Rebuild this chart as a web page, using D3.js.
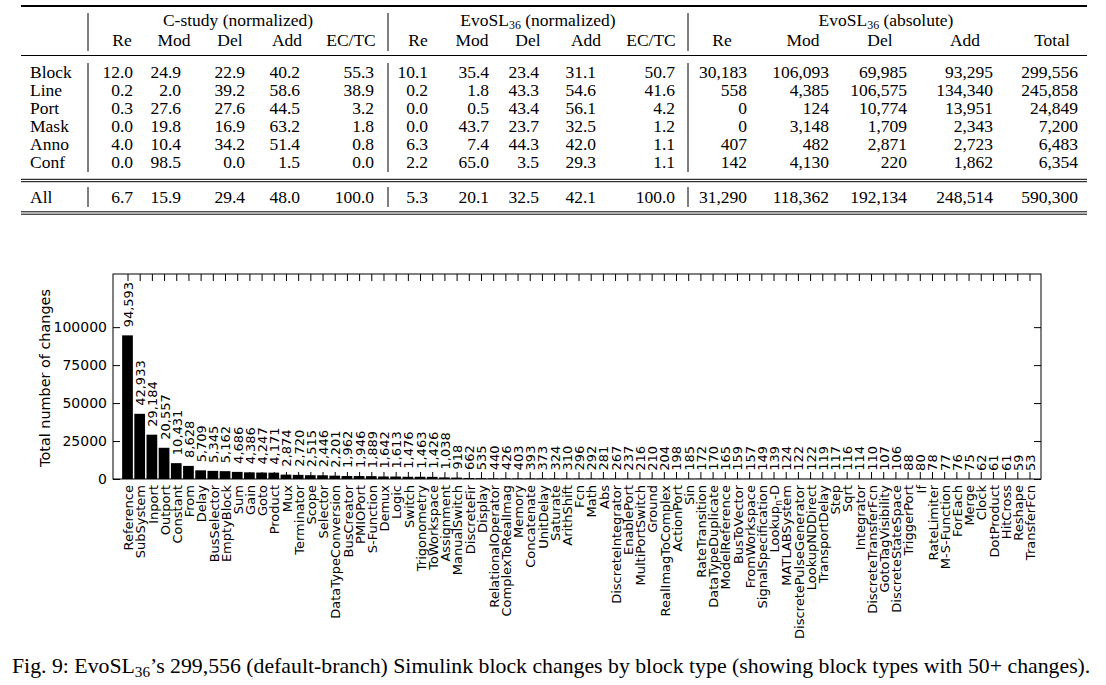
<!DOCTYPE html>
<html><head><meta charset="utf-8">
<script src="https://cdn.jsdelivr.net/npm/d3@7"></script>
<style>body{margin:0;background:#fff} svg{display:block}</style>
</head><body>
<svg id="c" width="1106" height="685"></svg>
<script>
// ---------------- DATA ----------------
const groupHeaders = ["C-study (normalized)", "EvoSL_{36} (normalized)", "EvoSL_{36} (absolute)"];
const columnHeaders = [
  ["Re","Mod","Del","Add","EC/TC"],
  ["Re","Mod","Del","Add","EC/TC"],
  ["Re","Mod","Del","Add","Total"]
];
const rowLabels = ["Block","Line","Port","Mask","Anno","Conf"];
const totalLabel = "All";
const cStudyValues = [
  [12.0,24.9,22.9,40.2,55.3],
  [0.2,2.0,39.2,58.6,38.9],
  [0.3,27.6,27.6,44.5,3.2],
  [0.0,19.8,16.9,63.2,1.8],
  [4.0,10.4,34.2,51.4,0.8],
  [0.0,98.5,0.0,1.5,0.0]
];
const cStudyAll = [6.7,15.9,29.4,48.0,100.0];
const evoNormValues = [
  [10.1,35.4,23.4,31.1,50.7],
  [0.2,1.8,43.3,54.6,41.6],
  [0.0,0.5,43.4,56.1,4.2],
  [0.0,43.7,23.7,32.5,1.2],
  [6.3,7.4,44.3,42.0,1.1],
  [2.2,65.0,3.5,29.3,1.1]
];
const evoNormAll = [5.3,20.1,32.5,42.1,100.0];
const evoAbsValues = [
  [30183,106093,69985,93295,299556],
  [558,4385,106575,134340,245858],
  [0,124,10774,13951,24849],
  [0,3148,1709,2343,7200],
  [407,482,2871,2723,6483],
  [142,4130,220,1862,6354]
];
const evoAbsAll = [31290,118362,192134,248514,590300];

const blockTypes = ["Reference","SubSystem","Inport","Outport","Constant","From","Delay","BusSelector","EmptyBlock","Sum",
  "Gain","Goto","Product","Mux","Terminator","Scope","Selector","DataTypeConversion","BusCreator","PMIOPort",
  "S-Function","Demux","Logic","Switch","Trigonometry","ToWorkspace","Assignment","ManualSwitch","DiscreteFir","Display",
  "RelationalOperator","ComplexToRealImag","Memory","Concatenate","UnitDelay","Saturate","ArithShift","Fcn","Math","Abs",
  "DiscreteIntegrator","EnablePort","MultiPortSwitch","Ground","RealImagToComplex","ActionPort","Sin","RateTransition","DataTypeDuplicate","ModelReference",
  "BusToVector","FromWorkspace","SignalSpecification","Lookup_n-D","MATLABSystem","DiscretePulseGenerator","LookupNDDirect","TransportDelay","Step","Sqrt",
  "Integrator","DiscreteTransferFcn","GotoTagVisibility","DiscreteStateSpace","TriggerPort","If","RateLimiter","M-S-Function","ForEach","Merge",
  "Clock","DotProduct","HitCross","Reshape","TransferFcn"];
const blockChanges = [94593,42933,29184,20557,10431,8628,5709,5345,5162,4686,
  4386,4247,4171,2874,2720,2515,2446,2201,1962,1946,
  1889,1642,1613,1476,1463,1426,1038,918,662,535,
  440,426,403,393,373,324,310,296,292,281,
  267,237,216,210,204,198,185,172,170,165,
  159,157,149,139,124,122,122,119,117,116,
  114,110,107,106,88,80,78,77,76,75,
  62,61,61,59,53];
const yTicks = [0,25000,50000,75000,100000];
const yMax = 135000;
const yTitle = "Total number of changes";
const caption = "Fig. 9: EvoSL_{36}\u2019s 299,556 (default-branch) Simulink block changes by block type (showing block types with 50+ changes).";

// ---------------- LAYOUT ----------------
const svg = d3.select("#c");
const serif = "'Liberation Serif','Times New Roman',Times,serif";
const sans = "'DejaVu Sans',sans-serif";

// rich text: "_{..}" or "_x" => subscript
function richText(textSel, str, subScale, shift) {
  const parts = [];
  const re = /_\{([^}]*)\}|_(.)/g;
  let last = 0, m;
  while ((m = re.exec(str)) !== null) {
    if (m.index > last) parts.push({t: str.slice(last, m.index), sub: false});
    parts.push({t: m[1] !== undefined ? m[1] : m[2], sub: true});
    last = re.lastIndex;
  }
  if (last < str.length) parts.push({t: str.slice(last), sub: false});
  textSel.text(null);
  let down = false;
  parts.forEach(p => {
    const ts = textSel.append("tspan").text(p.t);
    if (p.sub) { ts.attr("font-size", (subScale*100)+"%").attr("dy", shift); down = true; }
    else if (down) { ts.attr("dy", -shift); down = false; }
  });
}

// ---- Table ----
const T = {
  x0: 21, x1: 1087,
  vlines: [88, 388, 688],
  groupCenters: [238, 538, 886],
  headerCenters: [[122,174,230,287,351],[418,472,528,586,651],[722,803,880,965,1052]],
  numRights: [[133,181,245,300,374],[428,489,539,596,675],[747,829,907,993,1078]],
  labelX: 30,
  yTop: 6, yGroup: 25.5, yHead: 45.5, yMid: 55.5, yRow0: 77.5, rowStep: 18,
  yRule2: 180.5, yAll: 203, yBottom: 213, fs: 17.5
};
const tg = svg.append("g").attr("font-family", serif).attr("font-size", T.fs).attr("fill", "#000");
// rules
[[T.yTop,1.8],[T.yMid,1],[T.yRule2 - 1.2,1],[T.yRule2 + 1.2,1],[T.yBottom - 1.2,1],[T.yBottom + 1.2,1]].forEach(([yy,w]) => {
  tg.append("line").attr("x1", T.x0).attr("x2", T.x1).attr("y1", yy).attr("y2", yy)
    .attr("stroke", "#000").attr("stroke-width", w);
});
// vertical lines
const vSegs = [[13, 51], [63, 172], [187, 207]];
T.vlines.forEach(vx => vSegs.forEach(([a,b]) => {
  tg.append("line").attr("x1", vx).attr("x2", vx).attr("y1", a).attr("y2", b)
    .attr("stroke", "#000").attr("stroke-width", 1);
}));
// group headers
groupHeaders.forEach((g, i) => {
  const t = tg.append("text").attr("x", T.groupCenters[i]).attr("y", T.yGroup).attr("text-anchor", "middle");
  richText(t, g, 0.68, 3);
});
// column headers
columnHeaders.forEach((cols, gi) => cols.forEach((c, ci) => {
  tg.append("text").attr("x", T.headerCenters[gi][ci]).attr("y", T.yHead).attr("text-anchor", "middle").text(c);
}));
const fmt1 = d3.format(".1f");
const fmtAbs = d3.format(",");
const groups = [
  {vals: cStudyValues, all: cStudyAll, f: fmt1},
  {vals: evoNormValues, all: evoNormAll, f: fmt1},
  {vals: evoAbsValues, all: evoAbsAll, f: fmtAbs}
];
rowLabels.forEach((r, ri) => {
  const yy = T.yRow0 + ri * T.rowStep;
  tg.append("text").attr("x", T.labelX).attr("y", yy).text(r);
  groups.forEach((g, gi) => g.vals[ri].forEach((v, ci) => {
    tg.append("text").attr("x", T.numRights[gi][ci]).attr("y", yy).attr("text-anchor", "end").text(g.f(v));
  }));
});
tg.append("text").attr("x", T.labelX).attr("y", T.yAll).text(totalLabel);
groups.forEach((g, gi) => g.all.forEach((v, ci) => {
  tg.append("text").attr("x", T.numRights[gi][ci]).attr("y", T.yAll).attr("text-anchor", "end").text(g.f(v));
}));

// ---- Bar chart ----
const P = {left: 113, right: 1041, top: 274, bottom: 479};
const x = d3.scalePoint().domain(blockTypes).range([P.left + 14.5, P.right - 11.5]);
const bw = x.step() * 0.88;
const y = d3.scaleLinear().domain([0, yMax]).range([P.bottom, P.top]);
const cg = svg.append("g").attr("font-family", sans).attr("font-size", 13).attr("fill", "#000");

// bars
cg.append("g").selectAll("rect").data(blockTypes).join("rect")
  .attr("x", (d) => x(d) - bw / 2)
  .attr("width", bw)
  .attr("y", (d, i) => y(blockChanges[i]))
  .attr("height", (d, i) => y(0) - y(blockChanges[i]))
  .attr("fill", "#000");

// axes (inward ticks)
const axB = cg.append("g").attr("transform", `translate(0,${P.bottom})`)
  .call(d3.axisBottom(x).tickSizeInner(-7).tickSizeOuter(0).tickPadding(6));
const axT = cg.append("g").attr("transform", `translate(0,${P.top})`)
  .call(d3.axisTop(x).tickSizeInner(-7).tickSizeOuter(0).tickFormat(""));
const axL = cg.append("g").attr("transform", `translate(${P.left},0)`)
  .call(d3.axisLeft(y).tickValues(yTicks).tickSizeInner(-7).tickSizeOuter(0).tickPadding(6).tickFormat(d3.format("d")));
const axR = cg.append("g").attr("transform", `translate(${P.right},0)`)
  .call(d3.axisRight(y).tickValues(yTicks).tickSizeInner(-7).tickSizeOuter(0).tickFormat(""));
[axB, axT, axL, axR].forEach(a => {
  a.select(".domain").remove();
  a.selectAll(".tick line").attr("stroke", "#000").attr("stroke-width", 1);
});
axL.selectAll("text").attr("font-family", sans).attr("font-size", 14).attr("fill", "#000");
axB.selectAll("text")
  .attr("font-family", sans).attr("font-size", 13).attr("fill", "#000")
  .attr("transform", "rotate(-90)").attr("x", -6).attr("y", 0).attr("dy", "0.4em")
  .attr("text-anchor", "end")
  .each(function(d) { richText(d3.select(this), d, 0.75, 3); });

// frame
cg.append("rect").attr("x", P.left).attr("y", P.top).attr("width", P.right - P.left).attr("height", P.bottom - P.top)
  .attr("fill", "none").attr("stroke", "#000").attr("stroke-width", 1);

// value labels
cg.append("g").selectAll("text").data(blockTypes).join("text")
  .attr("transform", (d, i) => `translate(${x(d)},${y(blockChanges[i]) - 8}) rotate(-90)`)
  .attr("dy", "0.42em").attr("text-anchor", "start")
  .text((d, i) => fmtAbs(blockChanges[i]));

// y title
cg.append("text").attr("transform", `translate(45,${(P.top + P.bottom) / 2 + 1.5}) rotate(-90)`)
  .attr("text-anchor", "middle").attr("dy", "0.35em").attr("font-size", 14.4).text(yTitle);

// ---- Caption ----
const cap = svg.append("text").attr("x", 12).attr("y", 673).attr("font-family", serif).attr("font-size", 20).attr("fill", "#000");
richText(cap, caption, 0.7, 4);
const w = cap.node().getComputedTextLength();
cap.attr("font-size", 20 * 1079 / w);
</script>
</body></html>
